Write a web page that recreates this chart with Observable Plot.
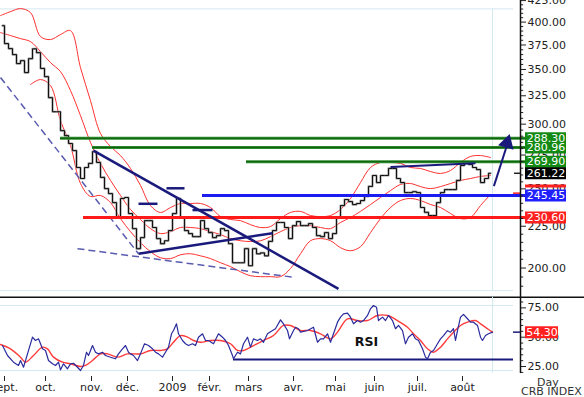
<!DOCTYPE html>
<html><head><meta charset="utf-8">
<script src="https://cdn.jsdelivr.net/npm/d3@7"></script>
<script src="https://cdn.jsdelivr.net/npm/@observablehq/plot@0.6"></script>
<style>
body{margin:0;background:#fff;}
#wrap{position:relative;width:584px;height:397px;overflow:hidden;font-family:"DejaVu Sans",sans-serif;background:#fff;}
#wrap svg{display:block;}
.note{position:absolute;font-size:11px;color:#333;line-height:11px;white-space:nowrap;}
</style></head><body><div id="wrap"></div>
<script>
// ---------- DATA ----------
// price closes, one every 2 trading days starting at trading-day index 1
const priceClose = [396,376.5,371.2,365,355.9,358.8,347,360.8,371,367,351,343,323.3,310.7,310.7,294.6,290.5,284.1,278.5,265.5,
257.4,265.5,268.6,277.7,269.3,258.2,250.2,246.7,240.5,230.6,243.3,244.0,233.2,223.5,211.2,217.9,228.6,228.6,224.2,217.3,
214.2,216.0,222.3,233.2,243.3,230.6,222.3,220.4,218.5,218.5,228.6,223.5,221.0,217.9,219.1,223.5,222.3,214.2,203.0,203.0,
203.0,211.2,201.3,211.2,208.2,208.7,207.0,215.6,222.3,227.4,227.4,224.2,217.3,225.4,228.0,225.4,225.4,226.7,224.2,219.1,
218.5,221.0,217.3,220.4,230.6,238.5,242.6,241.2,239.2,239.9,241.9,244.7,251.7,259.6,254.5,259.6,259.6,264.8,264.8,257.4,
254.5,247.4,247.4,248.0,247.4,237.2,234.0,231.9,231.9,240.5,247.4,249.5,249.5,249.5,256.0,267.0,269.3,267.8,265.5,264.0,
254.5,257.4,261.22];
// Bollinger bands, one value every 5 trading days from index 0
const bandUpper = [407.4,412.0,415.5,410.8,384.0,380.8,386.2,390.5,351.8,320.5,292.2,281.7,274.6,264.8,252.4,238.5,233.9,237.2,239.9,239.9,
239.9,237.2,231.2,229.3,228.6,226.0,224.2,224.8,229.9,233.9,234.6,231.9,231.2,231.9,235.9,243.3,254.5,265.5,269.3,269.3,
268.6,265.5,264.8,262.5,261.1,263.3,269.3,273.9,274.6,273.1];
const bandMid = [388.3,385.1,381.8,378.6,368.1,356.8,347.9,329.8,307.3,284.9,268.6,256.0,245.4,235.9,229.3,223.5,220.4,221.6,224.2,224.2,
223.5,221.6,219.8,217.3,216.0,215.5,216.0,218.5,221.6,224.2,225.4,225.4,224.2,223.5,227.4,230.6,234.6,239.2,244.0,248.8,
253.1,253.8,251.6,250.2,251.6,253.8,256.0,257.4,258.9,259.6];
const bandLower = [null,null,null,335.4,340.2,334.5,303.0,282.5,253.8,244.7,245.4,240.5,229.9,221.6,214.8,209.4,205.9,205.4,207.6,208.2,
207.0,205.4,203.0,200.8,197.9,195.7,195.2,195.2,195.2,199.7,208.2,216.0,217.3,216.0,211.8,210.0,212.4,221.0,229.9,237.2,
241.9,243.3,241.9,239.2,237.2,233.2,229.9,230.6,238.5,246.1];
// RSI and its signal line
const rsiIdx = [1,3.5,6.5,9,10,11.5,13.5,16,17.5,19,21,22.5,24,26,27.5,29,30,31.5,33.5,35,36.5,38.5,40,41.5,43,44,46,47.5,49,51,
52.5,55,57.5,59,61,62.5,64,65,66.5,68.5,70,72,74,76,77.5,79,81,82.5,84,85.5,86.5,88,89,91,92.5,94,96,97.5,99,101,
102.5,104,106.5,109,111,112.5,114,116,116.5,118.5,120,121.5,123.5,125,126.5,128.5,130,131.5,133.5,136,137.5,140,141.5,143.5,144.5,146.5,147.5,149,150,153.5,
156.5,158.5,160,161.5,163.5,165,166.5,168.5,170,171.5,173.5,175,176.5,178.5,180,181.5,183.5,185,186.5,188,189,191,192.5,194,196,197.5,199,201,202.5,204,
206,207.5,209,211,212.5,213.5,215,216.5,218.5,220,221.5,223.5,225,226.5,227.5,228.5,230,231.5,233.5,235,236.5,238.5,240,241,242.5,244,246];
const rsiVal = [42.9,34.4,28.7,25.9,30.1,24.4,35.8,50.0,47.2,48.6,40.1,38.7,30.1,27.3,25.9,28.7,22.2,27.3,23.1,27.3,27.8,24.4,21.6,25.9,37.2,34.4,42.9,37.2,35.8,37.2,
34.4,32.9,31.6,35.8,40.1,42.9,37.2,35.8,34.4,30.1,35.8,44.4,42.9,40.1,37.2,35.8,33.0,37.2,41.5,52.9,55.7,61.4,52.9,47.2,44.4,42.9,44.4,42.9,50.0,52.9,
47.2,47.2,44.4,52.9,50.0,47.2,42.9,34.4,31.6,37.2,35.8,44.4,50.0,41.5,48.6,47.2,48.6,45.7,52.9,55.7,57.2,64.8,61.4,55.7,48.6,55.7,58.5,57.2,54.3,55.7,
58.5,45.7,48.6,48.6,52.9,45.7,52.9,62.8,67.1,69.9,70.5,67.1,61.4,64.2,62.8,64.2,68.5,74.2,77.0,75.6,64.2,67.1,64.2,68.5,64.2,57.2,60.0,55.7,44.4,50.0,
52.9,48.6,47.2,40.1,33.0,31.6,37.2,38.7,44.4,48.6,51.4,55.7,54.3,57.2,47.2,55.7,67.1,69.4,65.7,62.8,62.8,60.0,50.0,47.2,51.4,52.9,54.3];
const sigIdx = [0,5,10,12.5,16.5,21,23.5,26.5,31,35,40,42.5,46,50,53.5,58.5,63.5,70,75,80,83.5,86.5,90,93.5,96.5,100,105,110,115,118.5,
121.5,126.5,131.5,136.5,141.5,145,150,155,160,165,168.5,173.5,178.5,183.5,188.5,193.5,198.5,203.5,206.5,210,213.5,216.5,220,223.5,226.5,230,233.5,237.5,240,243.5,246];
const sigVal = [43.8,40.1,33.0,28.7,34.4,41.5,40.1,33.0,28.7,27.3,25.0,25.9,30.1,35.8,35.8,33.0,35.8,35.8,38.7,38.7,40.1,45.7,51.4,50.0,47.2,45.7,47.2,47.2,44.4,38.7,
38.7,42.9,47.2,51.4,60.0,60.0,55.7,55.7,52.9,48.6,54.3,65.7,64.2,64.2,68.5,68.5,64.2,58.5,52.9,47.2,40.1,37.2,41.5,48.6,54.3,60.0,62.8,64.2,61.4,57.2,54.3];
// axis ticks
const monthIdx = [2,22.5,45.5,63.5,86,104.5,124,146.5,167.5,187,208.5,231];
const monthLabels = ["sept.","oct.","nov.","déc.","2009","févr.","mars","avr.","mai","juin","juil.","août"];
const priceTicks = [200,225,250,275,300,325,350,375,400,425];
const rsiTicks = [25,50,75];
// horizontal support / resistance levels
const levelValues = [288.30,280.96,269.90,245.45,230.60];
const levelStart = [30,46,123,101,41.5];
const levelColors = ["#2e8b2e","#2e8b2e","#2e8b2e","#1c1cf0","#ff1a1a"];
// value tags on the right axis
const tagValues = [288.30,280.96,269.90,261.22,245.45,230.60];
const tagColors = ["#138a13","#138a13","#138a13","#000000","#2020ff","#ff2020"];
// trend lines: [x1,y1,x2,y2]
const navyTrends = [[46.5,278.5,169,188.6],[69,208.2,136,220.6]];
const navyThin = [[195,265.9,237.5,268.7]];
const navyDashes = [[69,239.7,78.5,239.7],[83,250.4,92,250.4],[96,235.5,106,235.5]];
const dashedTrends = [[0,342.1,69,208.2],[38.5,211.2,147.5,194.7]];
const arrowLine = [[246.7,251.9,253.4,283.5]];
const arrowHead = [[253.3,284.5]];
const rsiLevel = 31;
const rsiLast = 54.30;

// ---------- RENDER ----------
const wrap = document.getElementById("wrap");
const light = "#d3e9f1";
const navy = "#1a1a7c";
const font = {fontFamily:"DejaVu Sans, sans-serif", fontSize:"11px", color:"#222", background:"transparent"};
const priceRows = priceClose.map((v,i)=>({i:1+2*i, v}));
const bandRows = bandUpper.map((u,k)=>({i:k*5, u, m:bandMid[k], l:bandLower[k]}));
const seg = a => a.map(([x1,y1,x2,y2])=>({x1,y1,x2,y2}));
const levels = levelValues.map((v,k)=>({v, from:levelStart[k], c:levelColors[k]}));
const tags = tagValues.map((v,k)=>({v, c:tagColors[k]}));
const minorP = d3.range(190,425,5).filter(v=>v%25!==0);
const minorR = d3.range(20,85,5).filter(v=>v%25!==0);

const topPlot = Plot.plot({
  width:584, height:291, marginLeft:0, marginRight:64, marginTop:0, marginBottom:0,
  style:font,
  color:{type:"identity"},
  x:{domain:[0,260], axis:null},
  y:{type:"log", domain:[187.2,425.1], axis:"right", ticks:priceTicks, tickFormat:d=>d.toFixed(2), tickSize:5, tickPadding:2, label:null},
  marks:[
    Plot.ruleY([415.2,187.7], {x1:0, x2:256.5, stroke:light}),
    Plot.ruleX([246], {y1:187.7, y2:415.2, stroke:light}),
    Plot.line(bandRows, {x:"i", y:"u", stroke:"#ff3030", strokeWidth:1, curve:"catmull-rom"}),
    Plot.line(bandRows, {x:"i", y:"m", stroke:"#ff3030", strokeWidth:1, curve:"catmull-rom"}),
    Plot.line(bandRows, {x:"i", y:"l", stroke:"#ff3030", strokeWidth:1, curve:"catmull-rom"}),
    Plot.link(seg(dashedTrends), {x1:"x1",y1:"y1",x2:"x2",y2:"y2", stroke:"#5a5cb0", strokeWidth:1.5, strokeDasharray:"7,4"}),
    Plot.line(priceRows, {x:"i", y:"v", stroke:"#9a9a9a", strokeWidth:2.2, curve:"step"}),
    Plot.line(priceRows, {x:"i", y:"v", stroke:"#111", strokeWidth:1, curve:"step"}),
    Plot.ruleY(levels, {y:"v", x1:"from", x2:262.5, stroke:"c", strokeWidth:3}),
    Plot.ruleY(levels.filter(d=>d.c==="#2e8b2e"), {y:"v", x1:"from", x2:262.5, stroke:"#0b5f0b", strokeWidth:1}),
    Plot.link(seg(navyTrends), {x1:"x1",y1:"y1",x2:"x2",y2:"y2", stroke:navy, strokeWidth:2.5}),
    Plot.link(seg(navyThin), {x1:"x1",y1:"y1",x2:"x2",y2:"y2", stroke:navy, strokeWidth:2}),
    Plot.link(seg(navyDashes), {x1:"x1",y1:"y1",x2:"x2",y2:"y2", stroke:navy, strokeWidth:2.5}),
    Plot.link(seg(arrowLine), {x1:"x1",y1:"y1",x2:"x2",y2:"y2", stroke:navy, strokeWidth:2}),
    Plot.dot(arrowHead, {x:d=>d[0], y:d=>d[1], symbol:"triangle", r:5, fill:navy, stroke:navy, rotate:16}),
    Plot.ruleY([261.22], {x1:257, x2:260, stroke:"#222", strokeWidth:1.5}),
    Plot.ruleY([247.0], {x1:256.5, x2:260, stroke:"#ff2020", strokeWidth:1.5}),
    Plot.ruleY(minorP, {x1:260, x2:261.6, stroke:"#222"}),
    Plot.ruleX([260], {stroke:"#111", strokeWidth:1.5}),
    Plot.ruleY([252.0], {x1:262.5, x2:283, stroke:"#ff2020", strokeWidth:3}),
    Plot.ruleY(tags, {y:"v", x1:262.5, x2:283, stroke:"c", strokeWidth:12}),
    Plot.text(tags, {x:272.8, y:"v", text:d=>d.v.toFixed(2), fill:"white", fontSize:11})
  ]
});
wrap.appendChild(topPlot);

const rsiRows = rsiIdx.map((i,k)=>({i, v:rsiVal[k]}));
const sigRows = sigIdx.map((i,k)=>({i, v:sigVal[k]}));
const botPlot = Plot.plot({
  width:584, height:106, marginLeft:0, marginRight:64, marginTop:10.5, marginBottom:21,
  style:font,
  x:{domain:[0,260], ticks:monthIdx, tickFormat:d=>monthLabels[monthIdx.indexOf(d)], tickSize:5, tickPadding:2, label:null},
  y:{domain:[16.5,80], axis:"right", ticks:rsiTicks, tickFormat:d=>d.toFixed(2), tickSize:5, tickPadding:2, label:null},
  marks:[
    Plot.ruleY([84.1], {x1:0, x2:292, stroke:"#111", strokeWidth:1.5}),
    Plot.ruleY([77,21.6], {x1:0, x2:256.5, stroke:light}),
    Plot.ruleX([246], {y1:84, y2:19, stroke:light}),
    Plot.ruleY([rsiLevel], {x1:116.5, x2:256.5, stroke:navy, strokeWidth:2}),
    Plot.line(sigRows, {x:"i", y:"v", stroke:"#ff3b3b", strokeWidth:1.4, curve:"catmull-rom"}),
    Plot.line(rsiRows, {x:"i", y:"v", stroke:"#2b2b9e", strokeWidth:1.2}),
    Plot.text(["RSI"], {x:183, y:46.3, fontWeight:"bold", fontSize:12.5, fill:"#111"}),
    Plot.ruleY(minorR, {x1:260, x2:261.6, stroke:"#222"}),
    Plot.ruleX([260], {y1:89, y2:19, stroke:"#111", strokeWidth:1.5}),
    Plot.ruleY([rsiLast], {x1:256.5, x2:260, stroke:navy, strokeWidth:1.5}),
    Plot.ruleY([rsiLast], {x1:262.5, x2:279, stroke:"#ff2020", strokeWidth:12}),
    Plot.text([rsiLast], {x:270.75, y:d=>d, text:d=>d.toFixed(2), fill:"white", fontSize:11})
  ]
});
wrap.appendChild(botPlot);

const n1 = document.createElement("div"); n1.className="note"; n1.textContent="Day";
n1.style.left="537px"; n1.style.top="377px"; wrap.appendChild(n1);
const n2 = document.createElement("div"); n2.className="note"; n2.textContent="CRB INDEX";
n2.style.left="521px"; n2.style.top="386px"; wrap.appendChild(n2);
</script></body></html>
